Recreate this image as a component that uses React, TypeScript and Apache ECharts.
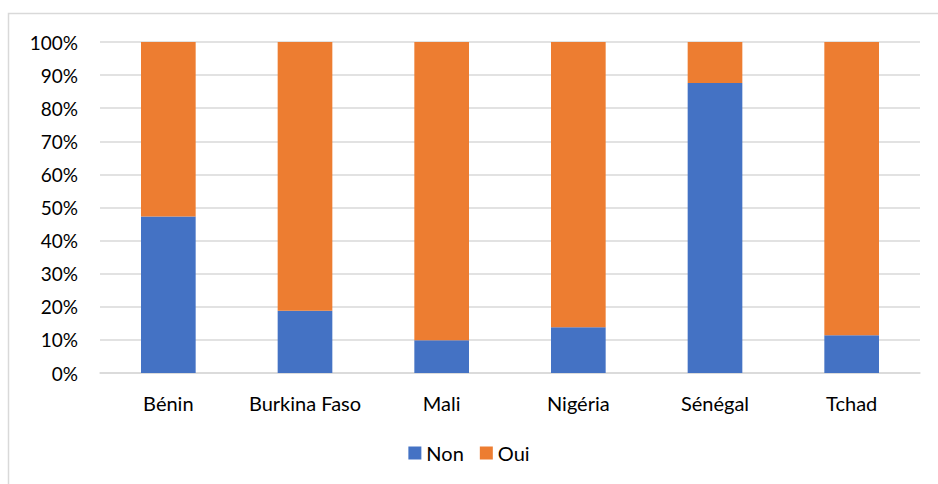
import React, { useEffect, useRef } from "react";
import * as echarts from "echarts";

const categories = ["Bénin", "Burkina Faso", "Mali", "Nigéria", "Sénégal", "Tchad"];
const nonValues = [47.3, 18.8, 9.9, 13.8, 87.6, 11.4];
const ouiValues = [52.7, 81.2, 90.1, 86.2, 12.4, 88.6];
const seriesNames = ["Non", "Oui"];
const colors = ["#4472C4", "#ED7D31"];

export default function App() {
  const ref = useRef<HTMLDivElement>(null);
  useEffect(() => {
    if (!ref.current) return;
    const chart = echarts.init(ref.current, null, { renderer: "svg" });
    const font = "Lato, 'Open Sans', sans-serif";
    chart.setOption({
      animation: false,
      backgroundColor: "#ffffff",
      graphic: [
        {
          type: "rect",
          shape: { x: 8.5, y: 13.5, width: 1200, height: 1000 },
          style: { fill: "none", stroke: "#d9d9d9", lineWidth: 1.5 },
          silent: true,
          z: -1,
        },
      ],
      grid: { left: 100, right: 18, top: 42, bottom: 111, containLabel: false },
      legend: {
        data: seriesNames,
        bottom: 16,
        left: "center",
        itemWidth: 13,
        itemHeight: 13,
        itemGap: 16,
        icon: "rect",
        textStyle: { fontFamily: font, fontSize: 20, color: "#000" },
      },
      xAxis: {
        type: "category",
        data: categories,
        axisLine: { show: true, lineStyle: { color: "#d9d9d9", width: 1.5 } },
        axisTick: { show: false },
        axisLabel: { fontFamily: font, fontSize: 20, color: "#000", margin: 20, interval: 0 },
      },
      yAxis: {
        type: "value",
        min: 0,
        max: 100,
        interval: 10,
        axisLine: { show: false },
        axisTick: { show: false },
        splitLine: { lineStyle: { color: "#d9d9d9", width: 1.5 } },
        axisLabel: {
          fontFamily: font,
          fontSize: 19,
          color: "#000",
          margin: 22,
          formatter: (v: number) => `${v}%`,
        },
      },
      series: [
        {
          name: seriesNames[0],
          type: "bar",
          stack: "total",
          data: nonValues,
          barWidth: "40%",
          itemStyle: { color: colors[0] },
        },
        {
          name: seriesNames[1],
          type: "bar",
          stack: "total",
          data: ouiValues,
          barWidth: "40%",
          itemStyle: { color: colors[1] },
        },
      ],
    });
    return () => chart.dispose();
  }, []);
  return (
    <div
      ref={ref}
      style={{ position: "fixed", left: 0, top: 0, width: 938, height: 484 }}
    />
  );
}
